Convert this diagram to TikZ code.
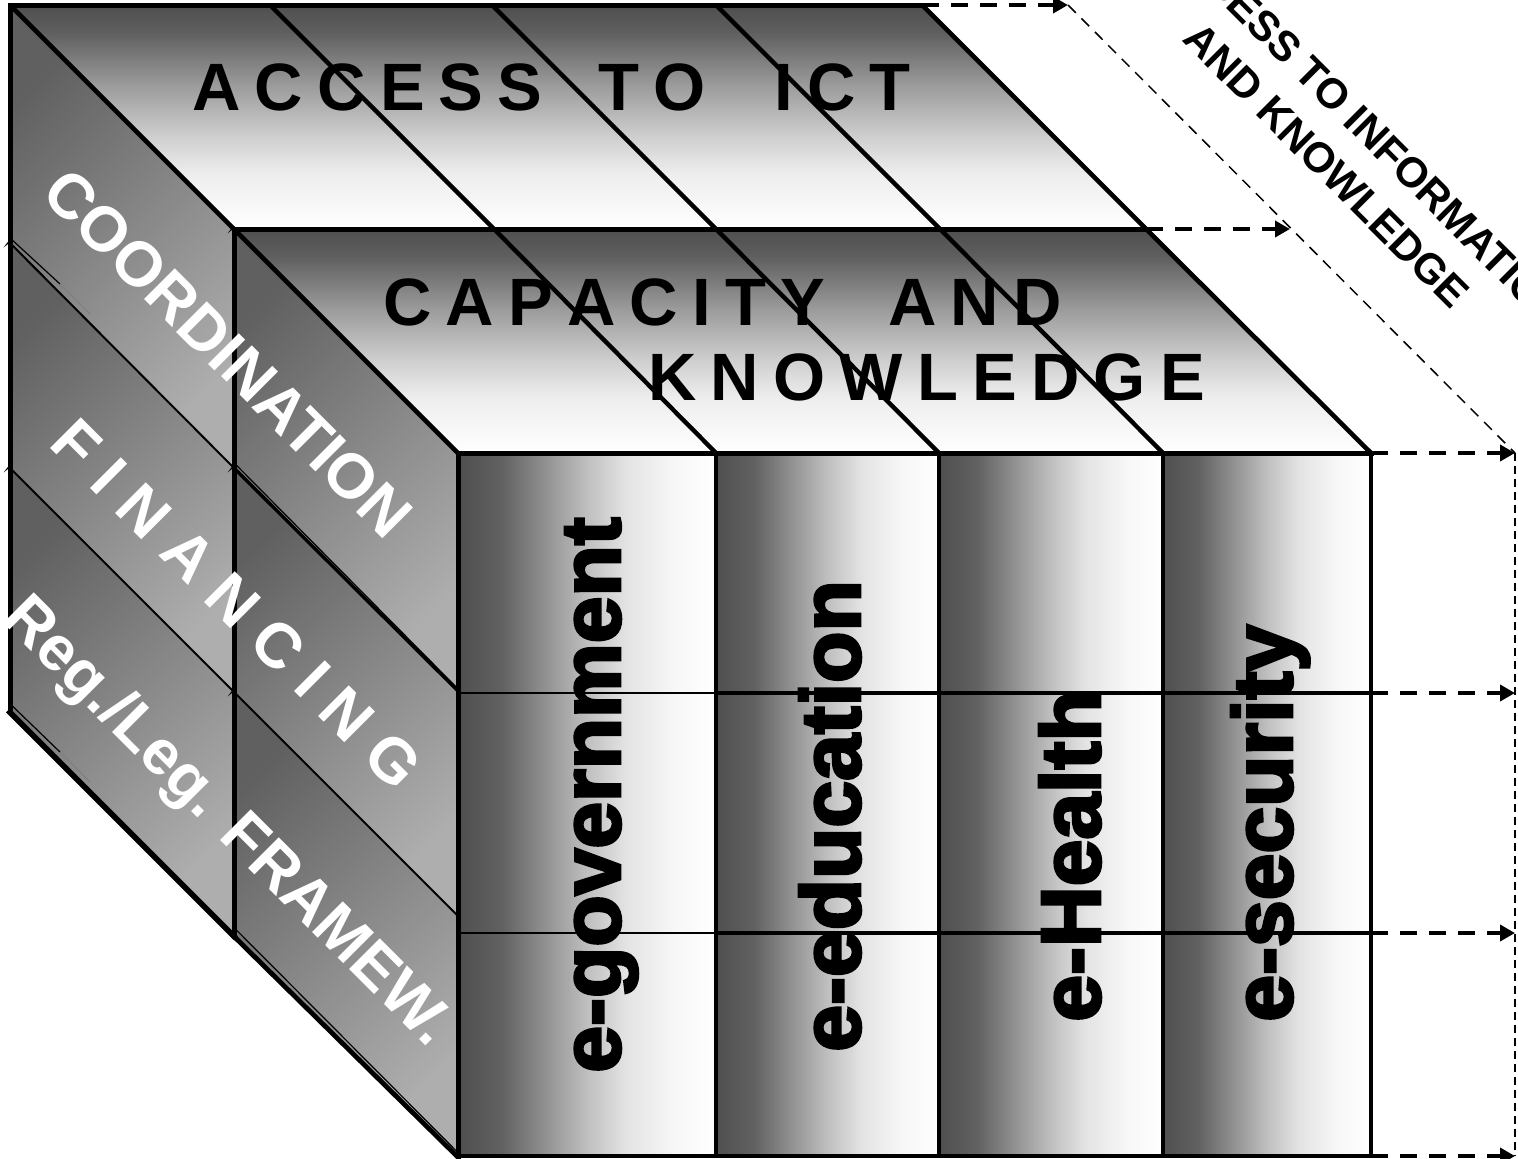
\documentclass[tikz,border=0pt]{standalone}
\usepackage{fontspec}
\setmainfont{Liberation Sans}
\newfontfamily\heavyfont{Liberation Sans}[UprightFont={* Bold},FakeBold=3.5]
\usetikzlibrary{arrows.meta}
\definecolor{ldark}{HTML}{606060}
\definecolor{llight}{HTML}{AEAEAE}
\newskip\tightspace
\tightspace=7.1pt
\newcommand{\toplabelfont}{\fontsize{33.5pt}{37.5pt}\selectfont\bfseries\spaceskip\tightspace}
\pgfdeclarehorizontalshading{frontgrad}{100bp}{rgb(0bp)=(.31,.31,.31);rgb(25bp)=(.31,.31,.31);rgb(33.5bp)=(.38,.38,.38);rgb(41.5bp)=(.56,.56,.56);rgb(50bp)=(.75,.75,.75);rgb(57.5bp)=(.89,.89,.89);rgb(67bp)=(.97,.97,.97);rgb(75bp)=(1,1,1);rgb(100bp)=(1,1,1)}
\pgfdeclareverticalshading{topgrad}{100bp}{rgb(0bp)=(1,1,1);rgb(25bp)=(1,1,1);rgb(37.5bp)=(.93,.93,.93);rgb(45bp)=(.82,.82,.82);rgb(57.5bp)=(.60,.60,.60);rgb(69bp)=(.37,.37,.37);rgb(75bp)=(.31,.31,.31);rgb(100bp)=(.31,.31,.31)}
\tikzset{
  x=0.5pt,y=-0.5pt,
  topshade/.style={shading=topgrad},
  frontshade/.style={shading=frontgrad},
  sideshade/.style={top color=ldark,bottom color=llight,shading angle=45},
  outline/.style={line width=2.5pt,line join=miter,line cap=rect},
  divider/.style={line width=2.2pt},
  rowthin/.style={line width=1pt},
  rowthick/.style={line width=1.7pt},
  hair/.style={line width=0.6pt},
  flow/.style={line width=2pt,dash pattern=on 8.5pt off 6pt,-{Triangle[length=7.5pt,width=8pt]}},
  guide/.style={line width=0.75pt,dash pattern=on 5.5pt off 4pt},
  guidev/.style={line width=1pt,dash pattern=on 4pt off 2.5pt},
  toplabel/.style={font=\toplabelfont,text=black,inner sep=0pt,anchor=base west,align=left},
  sidelabel/.style={font=\fontsize{31.6pt}{34pt}\selectfont\bfseries,text=white,inner sep=0pt,rotate=-45},
  collabel/.style={font=\fontsize{42pt}{46pt}\selectfont\heavyfont,text=black,inner sep=0pt,rotate=90,anchor=base west},
  dimlabel/.style={font=\fontsize{21.1pt}{27.5pt}\selectfont\bfseries,text=black,inner sep=0pt,rotate=-45,align=center},
  barb/.style={fill=black,draw=none}
}
\begin{document}
\begin{tikzpicture}
\useasboundingbox (0,0) rectangle (1518,1158);
% top face corners
\coordinate (a0) at (10,5);   \coordinate (a1) at (270,5);  \coordinate (a2) at (492,5);
\coordinate (a3) at (716,5);  \coordinate (a4) at (922,5);
\coordinate (b0) at (234,229);\coordinate (b1) at (494,229);\coordinate (b2) at (716,229);
\coordinate (b3) at (940,229);\coordinate (b4) at (1146,229);
\coordinate (c0) at (458,453);\coordinate (c1) at (716,453);\coordinate (c2) at (939,453);
\coordinate (c3) at (1163,453);\coordinate (c4) at (1371,453);
% front bottom
\coordinate (d0) at (458,1156);\coordinate (d1) at (716,1156);\coordinate (d2) at (939,1156);
\coordinate (d3) at (1163,1156);\coordinate (d4) at (1371,1156);
% front rows
\coordinate (r1) at (458,693);\coordinate (r1a) at (716,693);\coordinate (r1b) at (1371,693);
\coordinate (r2) at (458,933);\coordinate (r2a) at (716,933);\coordinate (r2b) at (1371,933);
% left faces
\coordinate (e1) at (10,243);\coordinate (e2) at (10,468);\coordinate (e3) at (10,710);
\coordinate (f1) at (234,468);\coordinate (f2) at (234,692);\coordinate (f3) at (234,934);
\coordinate (g1) at (458,691);\coordinate (g2) at (458,916);
% arrow ends
\coordinate (h0) at (1068,5);\coordinate (h1) at (1290,229);\coordinate (h2) at (1515,453);
\coordinate (h3) at (1515,693);\coordinate (h4) at (1515,933);\coordinate (h5) at (1515,1156);

% shaded faces
\shade[topshade] (a0)--(a4)--(b4)--(b0)--cycle;
\shade[topshade] (b0)--(b4)--(c4)--(c0)--cycle;
\shade[frontshade] (c0) rectangle (d1);
\shade[frontshade] (c1) rectangle (d2);
\shade[frontshade] (c2) rectangle (d3);
\shade[frontshade] (c3) rectangle (d4);
\shade[sideshade] (a0)--(b0)--(f1)--(e1)--cycle;
\shade[sideshade] (e1)--(f1)--(f2)--(e2)--cycle;
\shade[sideshade] (e2)--(f2)--(f3)--(e3)--cycle;
\shade[sideshade] (b0)--(c0)--(g1)--(f1)--cycle;
\shade[sideshade] (f1)--(g1)--(g2)--(f2)--cycle;
\shade[sideshade] (f2)--(g2)--(d0)--(f3)--cycle;

% row lines
\draw[rowthin] (e1)--(f1);
\draw[rowthin] (e2)--(f2)--(g2);
\draw[rowthick] (f1)--(g1);
\draw[hair] ([xshift=1pt,yshift=1.6pt]f1)--([yshift=1.6pt,xshift=-.5pt]g1);
\draw[hair] ([xshift=1pt,yshift=1.6pt]e1)--(60,284);
\draw[hair,gray] (60,284)--(90,314);
\draw[rowthin] (r1)--(r1a);
\draw[rowthick] (r1a)--(r1b);
\draw[rowthin] (r2)--(r2a);
\draw[rowthick] (r2a)--(r2b);

% top dividers
\draw[divider] (a1)--(b1)--(c1);
\draw[divider] (a2)--(b2)--(c2);
\draw[divider] (a3)--(b3)--(c3);
\draw[divider] (c1)--(d1);
\draw[divider] (c2)--(d2);
\draw[divider] (c3)--(d3);

% outlines
\draw[outline] (a0)--(a4);
\draw[line width=2.3pt] (a4)--(b4)--(c4);
\draw[outline] (b0)--(b4);
\draw[outline] (c0)--(c4);
\draw[line width=2.2pt] (d0)--(d4);
\draw[line width=2.2pt] (c4)--(d4);
\draw[outline] (a0)--(e3);
\draw[outline] (b0)--(f3);
\draw[outline] (c0)--(d0);
\draw[line width=2.3pt] (a0)--(b0)--(c0);
\draw[line width=2.8pt,line cap=rect] ([yshift=-1.2pt]e3)--([yshift=-1.2pt]f3);
\draw[line width=2.4pt,line cap=rect] ([yshift=-1.2pt]f3)--([yshift=-.6pt]d0);
\draw[hair] ([xshift=1pt,yshift=2.2pt]f3)--([xshift=-.5pt,yshift=2.2pt]d0);
\draw[hair] ([xshift=1pt,yshift=2.2pt]e3)--(60,752);
\draw[hair,gray] (60,752)--(90,782);

% barbs
\foreach \p in {e1,e2,f1,f2,b0}{
  \fill[barb] ([xshift=-3.2pt,yshift=-2.2pt]\p)--([xshift=.6pt,yshift=.8pt]\p)--([xshift=-.3pt,yshift=1.5pt]\p)--cycle;
}

% dashed connectors
\draw[flow] (a4)--(h0);
\draw[flow] (b4)--(h1);
\draw[flow] (c4)--(h2);
\draw[flow] (r1b)--(h3);
\draw[flow] (r2b)--(h4);
\draw[flow] (d4)--(h5);
\draw[guide] (h0)--(h2);
\draw[guidev] (h2)--(h5);

% labels
\node[toplabel] (accessict) at (192,110) {A C C E S S\hspace{21pt} T O\hspace{27pt} I C T};
\node[toplabel] (capacity) at (383,400) {C A P A C I T Y\hspace{24.5pt} A N D\\\hspace*{132.5pt}K N O W L E D G E};
\node[sidelabel] (coord) at (228,353) {COORDINATION};
\node[sidelabel] (fin) at (237,604) {F I N A N C I N G};
\node[sidelabel] (reg) at (226,823) {Reg./Leg. FRAMEW.};
\node[collabel] (egov) at (620,1073) {e-government};
\node[collabel] (eedu) at (860,1052) {e-education};
\node[collabel] (ehealth) at (1100,1022) {e-Health};
\node[collabel] (esec) at (1292,1022) {e-security};
\node[dimlabel] (dim) at (1346,146) {ACCESS TO INFORMATION\\AND KNOWLEDGE};
\end{tikzpicture}
\end{document}
